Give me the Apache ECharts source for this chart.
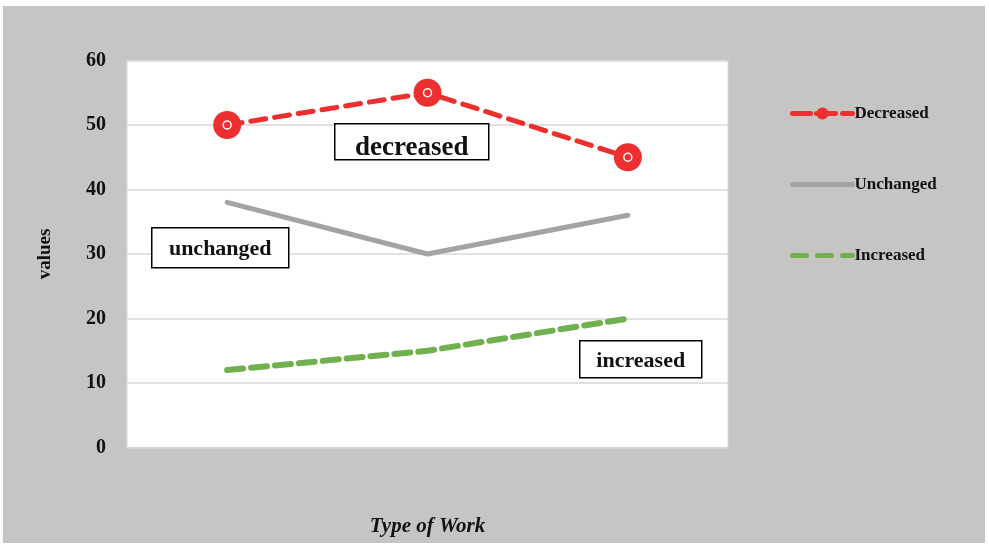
<!DOCTYPE html>
<html>
<head>
<meta charset="utf-8">
<script src="https://cdn.jsdelivr.net/npm/echarts@6/dist/echarts.min.js"></script>
<style>
  html, body { margin: 0; padding: 0; background: #ffffff; width: 989px; height: 546px; overflow: hidden; }
  #chart { position: absolute; left: 3px; top: 6px; width: 982px; height: 537px; background: #c6c5c3; }
</style>
</head>
<body>
<div id="chart"></div>
<script>
// Categories (type of work) – unlabeled on the axis
const categories = ['A', 'B', 'C'];
// Series values
const decreased = [50, 55, 45];
const unchanged = [38, 30, 36];
const increased = [12, 15, 20];
// Y axis ticks
const yMin = 0, yMax = 60, yStep = 10;

const serif = '"Liberation Serif", "Times New Roman", serif';
const red = '#ee2f2f', gray = '#a2a4a4', green = '#70b04e';

const chart = echarts.init(document.getElementById('chart'), null, { renderer: 'canvas' });

// Boxed annotation text placed over the plot
function boxLabel(text, x, y, w, h, size, dy) {
  return {
    type: 'group', left: x, top: y, z: 50,
    children: [
      { type: 'rect', z: 50, shape: { x: 0, y: 0, width: w, height: h },
        style: { fill: '#ffffff', stroke: '#000000', lineWidth: 1.5 } },
      { type: 'text', z: 51, x: w / 2, y: h / 2 + dy,
        style: { text: text, font: 'bold ' + size + 'px ' + serif, fill: '#111',
                 textAlign: 'center', textVerticalAlign: 'middle' } }
    ]
  };
}

chart.setOption({
  animation: false,
  backgroundColor: '#c6c5c3',
  grid: {
    left: 124, top: 54.5, width: 601, height: 387,
    outerBoundsMode: 'none', containLabel: false,
    show: true, backgroundColor: '#ffffff', borderColor: '#dcdcdc', borderWidth: 1
  },
  legend: {
    orient: 'vertical', left: 782, top: 94,
    itemWidth: 60, itemHeight: 15, itemGap: 54,
    data: [
      { name: 'Decreased', lineStyle: { width: 5, type: [18, 6, 19, 7, 12, 10] } },
      { name: 'Unchanged', lineStyle: { width: 5 }, itemStyle: { opacity: 0 } },
      { name: 'Increased', lineStyle: { width: 5, type: [14, 11] }, itemStyle: { opacity: 0 } }
    ],
    textStyle: { fontFamily: serif, fontWeight: 'bold', fontSize: 17, color: '#111', padding: [0, 0, 0, -3] }
  },
  xAxis: {
    type: 'category', data: categories, boundaryGap: true,
    axisLabel: { show: false }, axisTick: { show: false },
    axisLine: { lineStyle: { color: '#d9d9d9', width: 1 } },
    name: 'Type of Work', nameLocation: 'middle', nameGap: 69,
    nameTextStyle: { fontFamily: serif, fontWeight: 'bold', fontStyle: 'italic', fontSize: 21, color: '#111' }
  },
  yAxis: {
    type: 'value', min: yMin, max: yMax, interval: yStep,
    axisLine: { show: false }, axisTick: { show: false },
    axisLabel: { fontFamily: serif, fontWeight: 'bold', fontSize: 20, color: '#111', margin: 21 },
    splitLine: { lineStyle: { color: '#d9d9d9', width: 1.5 } },
    name: 'values', nameLocation: 'middle', nameGap: 72, nameRotate: 90,
    nameTextStyle: { fontFamily: serif, fontWeight: 'bold', fontSize: 19, color: '#111' }
  },
  series: [
    {
      name: 'Decreased', type: 'line', data: decreased, z: 5,
      symbol: 'circle', symbolSize: 28,
      itemStyle: { color: red },
      lineStyle: { color: red, width: 5, type: [15, 9], cap: 'round' }
    },
    {
      // small white ring inside each red marker
      name: 'Decreased', type: 'line', data: decreased, z: 6,
      symbol: 'circle', symbolSize: 8, legendHoverLink: false,
      itemStyle: { color: red, borderColor: '#ffffff', borderWidth: 1.5 },
      lineStyle: { opacity: 0 }, silent: true
    },
    {
      name: 'Unchanged', type: 'line', data: unchanged, z: 4,
      symbol: 'none', showSymbol: false,
      itemStyle: { color: gray },
      lineStyle: { color: gray, width: 5, cap: 'round' }
    },
    {
      name: 'Increased', type: 'line', data: increased, z: 4,
      symbol: 'none', showSymbol: false,
      itemStyle: { color: green },
      lineStyle: { color: green, width: 6, type: [16, 8], cap: 'round' }
    }
  ],
  graphic: [
    boxLabel('decreased', 331, 117, 154, 36, 27, 6),
    boxLabel('unchanged', 148, 221, 137, 40, 22, 2),
    boxLabel('increased', 576, 334, 122, 37, 22, 2)
  ]
});
</script>
</body>
</html>
